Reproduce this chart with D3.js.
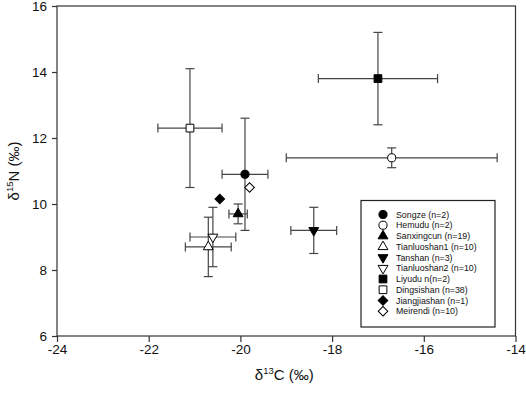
<!DOCTYPE html>
<html lang="en">
<head>
<meta charset="utf-8">
<title>d13C vs d15N</title>
<script src="https://cdn.jsdelivr.net/npm/d3@7"></script>
<style>
    body {margin: 0; background: #fff;}
    text {font-family: "Liberation Sans", Arial, sans-serif; fill: #111;}
</style>
</head>
<body>
<script>
    // data
    const sites  = ["Songze (n=2)", "Hemudu (n=2)", "Sanxingcun (n=19)", "Tianluoshan1 (n=10)", "Tanshan (n=3)",
                    "Tianluoshan2 (n=10)", "Liyudu n(n=2)", "Dingsishan (n=38)", "Jiangjiashan (n=1)", "Meirendi (n=10)"];
    const c13    = [-19.9, -16.7, -20.05, -20.7, -18.4, -20.6, -17.0, -21.1, -20.45, -19.8];
    const n15    = [10.9, 11.4, 9.7, 8.7, 9.2, 9.0, 13.8, 12.3, 10.15, 10.5];
    const c13sd  = [0.5, 2.3, 0.2, 0.5, 0.5, 0.5, 1.3, 0.7, null, null];
    const n15sd  = [1.7, 0.3, 0.3, 0.9, 0.7, 0.9, 1.4, 1.8, null, null];
    // marker: shape, filled, rotation
    const shapes = ["circle", "circle", "triangle", "triangle", "triangle", "triangle", "square", "square", "diamond", "diamond"];
    const filled = [true, false, true, false, true, false, true, false, true, false];
    const flip   = [false, false, false, false, true, true, false, false, false, false];

    const xTicks = [-24, -22, -20, -18, -16, -14];
    const yTicks = [6, 8, 10, 12, 14, 16];

    const W = 526, H = 394;
    const m = {left: 57, top: 6, right: 10.5, bottom: 58};

    const svg = d3.select("body").append("svg")
        .attr("width", W).attr("height", H);

    const x = d3.scaleLinear().domain([-24, -14]).range([m.left, W - m.right]);
    const y = d3.scaleLinear().domain([6, 16]).range([H - m.bottom, m.top]);

    const data = sites.map((s, i) => ({
        site: s, cx: c13[i], ny: n15[i], sx: c13sd[i], sy: n15sd[i],
        shape: shapes[i], filled: filled[i], flip: flip[i]
    }));

    function symbolPath(d) {
        if (d.shape === "circle") return d3.symbol(d3.symbolCircle, 52)();
        if (d.shape === "square") return d3.symbol(d3.symbolSquare, 60)();
        if (d.shape === "triangle") return d3.symbol(d3.symbolTriangle, 42)();
        return d3.symbol(d3.symbolSquare, 46)(); // rotated 45 -> diamond
    }
    function symbolRot(d) {
        if (d.shape === "diamond") return 45;
        return d.flip ? 180 : 0;
    }

    // frame
    svg.append("rect")
        .attr("x", x(-24)).attr("y", y(16))
        .attr("width", x(-14) - x(-24)).attr("height", y(6) - y(16))
        .attr("fill", "none").attr("stroke", "#333").attr("stroke-width", 1.2);

    // axes
    const gx = svg.append("g")
        .attr("transform", `translate(0,${y(6)})`)
        .call(d3.axisBottom(x).tickValues(xTicks).tickSize(6).tickPadding(2).tickFormat(d3.format("d")));
    const gy = svg.append("g")
        .attr("transform", `translate(${x(-24)},0)`)
        .call(d3.axisLeft(y).tickValues(yTicks).tickSize(5).tickPadding(5).tickFormat(d3.format("d")));
    [gx, gy].forEach(g => {
        g.select(".domain").remove();
        g.selectAll("line").attr("stroke", "#333").attr("stroke-width", 1.2);
        g.selectAll("text").attr("font-size", 13.5).attr("fill", "#111")
            .attr("font-family", "'Liberation Sans', Arial, sans-serif");
    });
    gx.selectAll("text").text(d => d < 0 ? "-" + Math.abs(d) : d);

    // axis titles
    const xt = svg.append("text")
        .attr("x", (x(-24) + x(-14)) / 2 - 2).attr("y", 380)
        .attr("text-anchor", "middle").attr("font-size", 15);
    xt.append("tspan").text("δ");
    xt.append("tspan").attr("font-size", 9.5).attr("dy", -6.5).text("13");
    xt.append("tspan").attr("dy", 6.5).text("C (‰)");

    const yt = svg.append("text")
        .attr("transform", `translate(19,${(y(6) + y(16)) / 2}) rotate(-90)`)
        .attr("text-anchor", "middle").attr("font-size", 15);
    yt.append("tspan").text("δ");
    yt.append("tspan").attr("font-size", 9.5).attr("dy", -6.5).text("15");
    yt.append("tspan").attr("dy", 6.5).text("N (‰)");

    // error bars
    const cap = 4.5;
    const eb = svg.append("g").attr("stroke", "#444").attr("stroke-width", 1.2);
    data.filter(d => d.sx != null).forEach(d => {
        const x0 = x(d.cx - d.sx), x1 = x(d.cx + d.sx), yc = y(d.ny);
        const y0 = y(d.ny - d.sy), y1 = y(d.ny + d.sy), xc = x(d.cx);
        eb.append("line").attr("x1", x0).attr("x2", x1).attr("y1", yc).attr("y2", yc);
        eb.append("line").attr("x1", x0).attr("x2", x0).attr("y1", yc - cap).attr("y2", yc + cap);
        eb.append("line").attr("x1", x1).attr("x2", x1).attr("y1", yc - cap).attr("y2", yc + cap);
        eb.append("line").attr("x1", xc).attr("x2", xc).attr("y1", y0).attr("y2", y1);
        eb.append("line").attr("x1", xc - cap).attr("x2", xc + cap).attr("y1", y0).attr("y2", y0);
        eb.append("line").attr("x1", xc - cap).attr("x2", xc + cap).attr("y1", y1).attr("y2", y1);
    });

    // points
    svg.append("g").selectAll("path")
        .data(data)
        .join("path")
        .attr("d", symbolPath)
        .attr("transform", d => `translate(${x(d.cx)},${y(d.ny)}) rotate(${symbolRot(d)})`)
        .attr("fill", d => d.filled ? "#000" : "#fff")
        .attr("stroke", "#000").attr("stroke-width", 1);

    // legend
    const lg = svg.append("g").attr("transform", "translate(361,200.5)");
    lg.append("rect").attr("width", 134).attr("height", 126.5)
        .attr("fill", "#fff").attr("stroke", "#222").attr("stroke-width", 1.2);
    const items = lg.selectAll(".item")
        .data(data)
        .join("g")
        .attr("class", "item")
        .attr("transform", (d, i) => `translate(22,${14 + i * 10.75})`);
    items.append("path")
        .attr("d", symbolPath)
        .attr("transform", d => `rotate(${symbolRot(d)})`)
        .attr("fill", d => d.filled ? "#000" : "#fff")
        .attr("stroke", "#000").attr("stroke-width", 1);
    items.append("text")
        .attr("x", 13).attr("dy", "0.35em")
        .attr("font-size", 8.8)
        .text(d => d.site);
</script>
</body>
</html>
